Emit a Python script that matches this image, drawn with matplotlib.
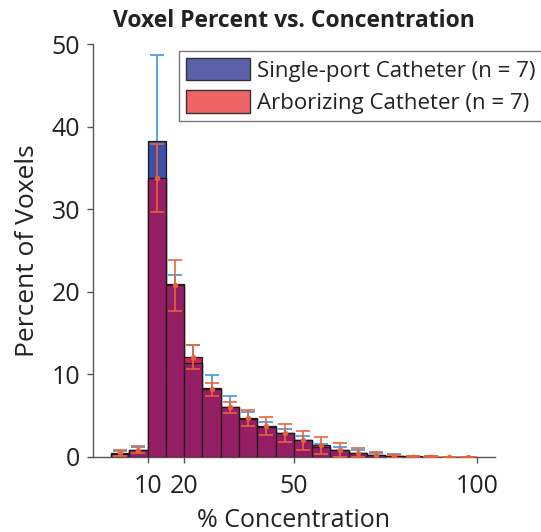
import numpy as np
import matplotlib
matplotlib.use("Agg")
import matplotlib.pyplot as plt
from matplotlib.patches import Patch

plt.rcParams['font.family'] = ['Open Sans', 'DejaVu Sans']

# bins de 5 % de concentracion
bordes = np.arange(0, 105, 5)
centros = bordes[:-1] + 2.5

# Single-port (azul)
single = [0.4, 0.85, 38.3, 20.9, 11.4, 8.3, 6.1, 4.6, 3.6, 2.9,
          2.0, 1.2, 0.8, 0.45, 0.2, 0.15, 0.06, 0.03, 0.02, 0.02]
single_err = [0.35, 0.3, 10.4, 1.2, 2.2, 1.6, 1.3, 0.9, 0.6, 0.5,
              0.6, 0.35, 0.4, 0.4, 0.3, 0.25, 0.12, 0.05, 0.02, 0.02]

# Arborizing (rojo)
arbor = [0.45, 0.9, 33.8, 20.8, 12.1, 8.2, 6.0, 4.7, 3.75, 2.95,
         2.0, 1.4, 0.85, 0.5, 0.2, 0.1, 0.05, 0.02, 0.02, 0.02]
arbor_err = [0.35, 0.45, 4.1, 3.1, 1.5, 0.8, 0.7, 1.0, 1.1, 1.1,
             1.15, 1.05, 0.8, 0.55, 0.45, 0.2, 0.1, 0.05, 0.03, 0.03]

xticks = [10, 20, 50, 100]
etiquetas = ["Single-port Catheter (n = 7)", "Arborizing Catheter (n = 7)"]

azul = "#3F4FA6"
rojo = "#C8284F"
morado = "#961E64"
borde = "#1A1A1A"

fig = plt.figure(figsize=(5.41, 5.32), dpi=100)
ax = fig.add_axes([0.1713, 0.141, 0.7436, 0.776])

solape = np.minimum(single, arbor)

# barras de error azules detras de las barras
ax.errorbar(centros, single, yerr=single_err, fmt="none", ecolor="#4A9FE0",
            elinewidth=1.3, capsize=4.7, capthick=1.3, zorder=1)

ax.bar(centros, single, width=5, color=azul, edgecolor=borde, linewidth=0.9, zorder=2)
ax.bar(centros, arbor, width=5, color=rojo, edgecolor=borde, linewidth=0.9, zorder=3)
ax.bar(centros, solape, width=5, color=morado, edgecolor=borde, linewidth=0.9, zorder=4)

ax.errorbar(centros, arbor, yerr=arbor_err, fmt="o", color="#E8643A", ms=3,
            ecolor="#E8643A", elinewidth=1.3, capsize=4.7, capthick=1.3,
            alpha=0.9, zorder=5)

ax.set_xlim(-5, 105)
ax.set_ylim(0, 50)
ax.set_xticks(xticks)
ax.set_yticks([0, 10, 20, 30, 40, 50])
ax.tick_params(direction="out", length=4, width=1, colors="#555555",
               labelcolor="#222222", labelsize=18, pad=5)
ax.tick_params(axis="x", pad=8)
for s in ["top", "right"]:
    ax.spines[s].set_visible(False)
for s in ["left", "bottom"]:
    ax.spines[s].set_color("#555555")
    ax.spines[s].set_linewidth(1)

ax.set_title("Voxel Percent vs. Concentration", fontsize=16.5, fontweight="bold",
             color="#222222", pad=12)
ax.set_xlabel("% Concentration", fontsize=18, color="#222222", labelpad=7)
ax.set_ylabel("Percent of Voxels", fontsize=19, color="#222222", labelpad=8)

handles = [Patch(facecolor="#5A5FAA", edgecolor="#333333", linewidth=1),
           Patch(facecolor="#F06468", edgecolor="#333333", linewidth=1)]
leg = fig.legend(handles, etiquetas, loc="upper left",
                 bbox_to_anchor=(179 / 541, 1 - 51 / 532), fontsize=16,
                 frameon=True, fancybox=False, edgecolor="#555555",
                 handlelength=2.9, handleheight=1.2, handletextpad=0.3,
                 labelspacing=0.4, borderpad=0.3, borderaxespad=0)
leg.get_frame().set_linewidth(1)
for t in leg.get_texts():
    t.set_color("#222222")

plt.savefig("out.png", dpi=100)
